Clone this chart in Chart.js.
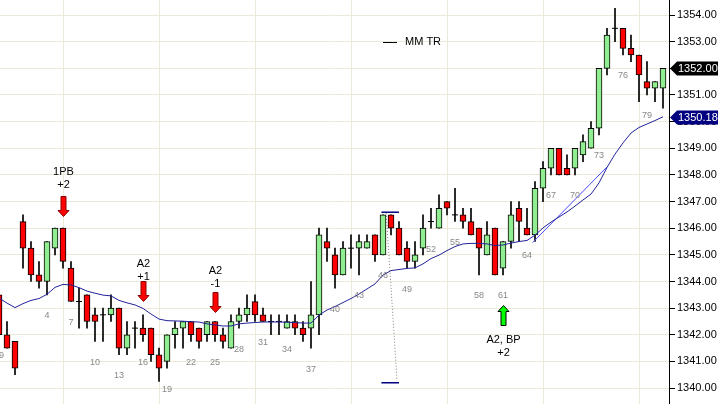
<!DOCTYPE html>
<html>
<head>
<meta charset="utf-8">
<script src="https://cdn.jsdelivr.net/npm/chart.js@4.4.1/dist/chart.umd.min.js"></script>
<style>
html, body { margin: 0; padding: 0; background: #fff; }
#wrap { width: 718px; height: 404px; }
</style>
</head>
<body>
<div id="wrap"><canvas id="chart" width="718" height="404"></canvas></div>
<script>
// bar number: 0 and below = end of previous session, 1..81 = today
const bars = [-2, -1, 0, 1, 2, 3, 4, 5, 6, 7, 8, 9, 10, 11, 12, 13, 14, 15, 16, 17, 18, 19, 20,
  21, 22, 23, 24, 25, 26, 27, 28, 29, 30, 31, 32, 33, 34, 35, 36, 37, 38, 39, 40,
  41, 42, 43, 44, 45, 46, 47, 48, 49, 50, 51, 52, 53, 54, 55, 56, 57, 58, 59, 60,
  61, 62, 63, 64, 65, 66, 67, 68, 69, 70, 71, 72, 73, 74, 75, 76, 77, 78, 79, 80, 81];

const opens = [1343.5, 1342, 1341.75, 1346.25, 1345.25, 1344.25, 1344, 1345.25, 1346, 1344.5,
  1343.25, 1343.5, 1342.75, 1342.75, 1342.75, 1343, 1341.5, 1342.25, 1342.25, 1342.25,
  1341.25, 1341, 1342, 1342.25, 1342.5, 1342.25, 1342, 1342.5, 1342, 1341.5,
  1342.5, 1342.75, 1343.25, 1342.75, 1342.5, 1342.5, 1342.25, 1342.5, 1342.25, 1342.25,
  1342.75, 1345.5, 1345, 1344.25, 1345.25, 1345.25, 1345.25, 1345.75, 1345, 1346.5,
  1346, 1345.25, 1344.75, 1345.25, 1346.25, 1346, 1347, 1346.5, 1346.5, 1346.25,
  1346, 1345, 1346, 1344.5, 1345.5, 1346.75, 1346, 1345.75, 1347.5, 1348.25,
  1349, 1348.25, 1348.25, 1348.75, 1349, 1349.75, 1352, 1353.5, 1353.5, 1352.75,
  1352.5, 1351.5, 1351.25, 1351.25];

const highs = [1343.5, 1342.5, 1341.75, 1346.5, 1345.5, 1344.75, 1345.5, 1346, 1346, 1344.75,
  1343.75, 1343.5, 1343, 1343, 1343.5, 1343, 1342.5, 1342.5, 1342.75, 1342.25,
  1341.5, 1342, 1342.5, 1342.5, 1342.5, 1342.25, 1342.5, 1342.5, 1342.25, 1342.75,
  1343, 1343.5, 1343.5, 1343, 1342.75, 1342.75, 1342.75, 1342.75, 1342.5, 1344,
  1346, 1346, 1345.25, 1345.5, 1345.75, 1345.75, 1345.75, 1345.75, 1346.5, 1346.5,
  1346.25, 1345.5, 1345.5, 1346.5, 1346.75, 1347.25, 1347, 1347.5, 1346.75, 1346.75,
  1346, 1346.25, 1346, 1345.5, 1347, 1347, 1346.75, 1347.75, 1348.5, 1349,
  1349, 1348.75, 1349, 1349.5, 1350, 1352, 1353.5, 1354.25, 1353.5, 1353.25,
  1352.5, 1352.25, 1351.5, 1352];

const lows = [1342, 1341.5, 1340.5, 1344.5, 1344, 1343.75, 1343.5, 1345, 1344.5, 1343.25,
  1342.25, 1342.25, 1341.75, 1341.75, 1342.5, 1341.25, 1341.25, 1341.5, 1341.75, 1341,
  1340.25, 1340.75, 1341.5, 1341.5, 1341.75, 1341.5, 1341.75, 1341.75, 1341.5, 1341.5,
  1342.25, 1342.5, 1342.5, 1342.5, 1342, 1342, 1342.25, 1342, 1341.75, 1341.5,
  1342, 1344.75, 1343.75, 1344.25, 1344.5, 1344.25, 1345.25, 1344.75, 1345, 1345.75,
  1345, 1344.5, 1344.5, 1345, 1346, 1346, 1346.5, 1346.25, 1346, 1345.75,
  1344.25, 1345, 1344.25, 1344.25, 1345.25, 1345.5, 1345.75, 1345.5, 1347, 1348,
  1348, 1348, 1348, 1348.5, 1349, 1349.5, 1351.75, 1353, 1352.5, 1352.25,
  1350.75, 1351, 1350.75, 1350.5];

const closes = [1342, 1341.5, 1340.75, 1345.25, 1344.25, 1344, 1345.5, 1346, 1344.75, 1343.25,
  1343.25, 1342.5, 1342.5, 1342.75, 1343, 1341.5, 1342, 1342.25, 1342, 1341.25,
  1340.75, 1342, 1342.25, 1342.5, 1342, 1341.75, 1342.5, 1342, 1341.75, 1342.5,
  1342.75, 1343, 1342.75, 1342.5, 1342.5, 1342.5, 1342.5, 1342.25, 1342, 1342.75,
  1345.75, 1345.25, 1344.25, 1345.25, 1345.25, 1345.5, 1345.5, 1345, 1346.5, 1346,
  1345, 1344.75, 1345, 1346, 1346.25, 1346.75, 1346.75, 1346.5, 1346.25, 1345.75,
  1345.25, 1345.75, 1344.25, 1345.5, 1346.5, 1346.25, 1345.75, 1347.5, 1348.25, 1349,
  1348, 1348, 1349, 1349.25, 1349.75, 1352, 1353.25, 1353.5, 1352.75, 1352.5,
  1351.75, 1351.25, 1351.5, 1352];

// moving average
const ema20 = [1343.38, 1343.19, 1343.02, 1343.17, 1343.29, 1343.36, 1343.52, 1343.78, 1343.89, 1343.87,
  1343.77, 1343.64, 1343.56, 1343.49, 1343.46, 1343.29, 1343.20, 1343.12, 1342.99, 1342.78,
  1342.59, 1342.53, 1342.52, 1342.51, 1342.49, 1342.48, 1342.41, 1342.37, 1342.33, 1342.33,
  1342.41, 1342.44, 1342.46, 1342.48, 1342.48, 1342.48, 1342.47, 1342.46, 1342.44, 1342.44,
  1342.74, 1342.93, 1343.06, 1343.21, 1343.36, 1343.53, 1343.72, 1343.91, 1344.24, 1344.41,
  1344.45, 1344.49, 1344.51, 1344.66, 1344.86, 1344.99, 1345.16, 1345.31, 1345.41, 1345.43,
  1345.43, 1345.41, 1345.35, 1345.37, 1345.44, 1345.50, 1345.54, 1345.74, 1346.01, 1346.23,
  1346.42, 1346.61, 1346.83, 1347.06, 1347.28, 1347.70, 1348.28, 1348.78, 1349.20, 1349.57,
  1349.78, 1349.91, 1350.04, 1350.18];

const yTicks = [1340, 1341, 1342, 1343, 1344, 1345, 1346, 1347, 1348, 1349, 1350, 1351, 1352, 1353, 1354];
const hourBars = [0, 12, 24, 36, 48, 60, 72];
const labelBars = [-2, 4, 7, 10, 13, 16, 19, 22, 25, 28, 31, 34, 37, 40, 43, 46, 49, 52, 55, 58, 61, 64, 67, 70, 73, 76, 79];

// trend line and measured move
const trendBars = [64.7, 74];
const trendPrices = [1345.46, 1348.3];
const mmBars = [46.4, 47.75];
const mmPrices = [1346.57, 1340.3];
const mmCapBars = [45.8, 48];
const mmCapPrices = [1346.6, 1340.2];

const notes = [
  { bar: 6, lines: ['1PB', '+2'], dir: 'down', tip: 1346.44, text: 1348.10 },
  { bar: 16, lines: ['A2', '+1'], dir: 'down', tip: 1343.28, text: 1344.65 },
  { bar: 25, lines: ['A2', '-1'], dir: 'down', tip: 1342.87, text: 1344.38 },
  { bar: 61, lines: ['A2, BP', '+2'], dir: 'up', tip: 1343.11, text: 1341.8 }
];

const UP = '#90ee90';
const DOWN = '#ff0000';

const wickData = bars.map((b, i) => ({ x: b, y: [lows[i], highs[i]] }));
const bodyData = [];
const bodyColors = [];
const dojiData = [];
bars.forEach((b, i) => {
  if (opens[i] === closes[i]) {
    dojiData.push({ x: b, y: opens[i] });
  } else {
    bodyData.push({ x: b, y: [opens[i], closes[i]] });
    bodyColors.push(closes[i] > opens[i] ? UP : DOWN);
  }
});
const emaData = bars.map((b, i) => ({ x: b, y: ema20[i] }));

const FONT = '"Liberation Sans", Arial, sans-serif';

const extras = {
  id: 'extras',
  afterDatasetsDraw(chart) {
    const ctx = chart.ctx;
    const xs = chart.scales.x, ys = chart.scales.y;
    const area = chart.chartArea;
    ctx.save();
    ctx.beginPath();
    ctx.rect(area.left, area.top, area.right - area.left, area.bottom - area.top);
    ctx.clip();

    // bar numbers under the lows
    ctx.font = '9px ' + FONT;
    ctx.fillStyle = '#888888';
    ctx.textAlign = 'center';
    ctx.textBaseline = 'middle';
    labelBars.forEach(b => {
      const i = bars.indexOf(b);
      const txt = String(b <= 0 ? b + 81 : b);
      ctx.fillText(txt, xs.getPixelForValue(b), ys.getPixelForValue(lows[i]) + 21);
    });

    // arrows and their text
    notes.forEach(n => {
      const x = Math.round(xs.getPixelForValue(n.bar)) + 0.5;
      const yt = Math.round(ys.getPixelForValue(n.tip)) + 0.5;
      const s = n.dir === 'down' ? -1 : 1;
      ctx.beginPath();
      ctx.moveTo(x, yt);
      ctx.lineTo(x + 5.5, yt + s * 6);
      ctx.lineTo(x + 2.5, yt + s * 6);
      ctx.lineTo(x + 2.5, yt + s * 20);
      ctx.lineTo(x - 2.5, yt + s * 20);
      ctx.lineTo(x - 2.5, yt + s * 6);
      ctx.lineTo(x - 5.5, yt + s * 6);
      ctx.closePath();
      ctx.fillStyle = n.dir === 'down' ? '#ff0000' : '#00ff00';
      ctx.fill();
      ctx.lineWidth = 1;
      ctx.strokeStyle = n.dir === 'down' ? '#8b0000' : '#000000';
      ctx.stroke();

      ctx.font = '11px ' + FONT;
      ctx.fillStyle = '#000';
      const y0 = ys.getPixelForValue(n.text);
      n.lines.forEach((t, k) => ctx.fillText(t, x, y0 + k * 13));
    });

    // legend for the MM / TR lines
    ctx.strokeStyle = '#000';
    ctx.lineWidth = 1;
    ctx.beginPath();
    ctx.moveTo(383, 42.5);
    ctx.lineTo(397, 42.5);
    ctx.stroke();
    ctx.font = '11px ' + FONT;
    ctx.textAlign = 'left';
    ctx.fillText('MM TR', 405, 42);
    ctx.restore();
  },
  afterDraw(chart) {
    const ctx = chart.ctx;
    const ys = chart.scales.y;
    const area = chart.chartArea;
    const w = chart.width;
    const tag = (val, color) => {
      const y = Math.round(ys.getPixelForValue(val)) + 0.5;
      ctx.beginPath();
      ctx.moveTo(area.right + 1, y);
      ctx.lineTo(area.right + 8, y - 7);
      ctx.lineTo(w, y - 7);
      ctx.lineTo(w, y + 7);
      ctx.lineTo(area.right + 8, y + 7);
      ctx.closePath();
      ctx.fillStyle = color;
      ctx.fill();
      ctx.font = '11px ' + FONT;
      ctx.fillStyle = '#fff';
      ctx.textAlign = 'left';
      ctx.textBaseline = 'middle';
      ctx.fillText(val.toFixed(2), area.right + 9, y);
    };
    ctx.save();
    tag(ema20[ema20.length - 1], '#000080');
    tag(closes[closes.length - 1], '#000000');
    ctx.restore();
  }
};

const noPad = s => {
  s.paddingTop = 0;
  s.paddingBottom = 0;
  s.paddingLeft = 0;
  s.paddingRight = 0;
};

new Chart(document.getElementById('chart'), {
  type: 'bar',
  data: {
    datasets: [
      {
        type: 'line', data: emaData, borderColor: '#22229a', borderWidth: 1,
        pointRadius: 0, tension: 0, order: 0
      },
      {
        type: 'line', data: trendBars.map((b, i) => ({ x: b, y: trendPrices[i] })),
        borderColor: '#4a4aff', borderWidth: 1, pointRadius: 0, order: 0
      },
      {
        type: 'line', data: mmBars.map((b, i) => ({ x: b, y: mmPrices[i] })),
        borderColor: '#808080', borderWidth: 1, borderDash: [1, 2], pointRadius: 0, order: 0
      },
      {
        type: 'line', data: mmCapBars.map(b => ({ x: b, y: mmCapPrices[0] })),
        borderColor: '#000080', borderWidth: 1.5, pointRadius: 0, order: 0
      },
      {
        type: 'line', data: mmCapBars.map(b => ({ x: b, y: mmCapPrices[1] })),
        borderColor: '#000080', borderWidth: 1.5, pointRadius: 0, order: 0
      },
      {
        type: 'bar', data: bodyData, backgroundColor: bodyColors, borderColor: '#000',
        borderWidth: 1, borderSkipped: false, barThickness: 6, grouped: false, order: 1
      },
      {
        type: 'scatter', data: dojiData, pointStyle: 'line', pointRadius: 3,
        borderColor: '#000', borderWidth: 1, order: 1
      },
      {
        type: 'bar', data: wickData, backgroundColor: '#000', borderWidth: 0,
        barThickness: 1, grouped: false, order: 2
      }
    ]
  },
  options: {
    responsive: false,
    animation: false,
    devicePixelRatio: 1,
    layout: { padding: 0, autoPadding: false },
    plugins: { legend: { display: false }, tooltip: { enabled: false } },
    scales: {
      x: {
        type: 'linear', min: -1.875, max: 81.75, offset: false,
        afterBuildTicks: s => { s.ticks = hourBars.map(v => ({ value: v })); },
        afterFit: s => { s.height = 0; noPad(s); },
        ticks: { display: false },
        border: { display: false },
        grid: {
          drawTicks: false,
          color: c => (c.tick && c.tick.value === 0 ? '#b8b8b8' : '#ece9d8')
        }
      },
      y: {
        type: 'linear', position: 'right', min: 1339.403, max: 1354.563,
        afterBuildTicks: s => { s.ticks = yTicks.map(v => ({ value: v })); },
        afterFit: s => { s.width = 49; noPad(s); },
        border: { display: true, color: '#000', width: 1 },
        grid: { color: '#ece9d8', tickColor: '#000', tickLength: 6 },
        ticks: {
          padding: 2, color: '#000',
          font: { family: FONT, size: 11 },
          callback: v => Number(v).toFixed(2)
        }
      }
    }
  },
  plugins: [extras]
});
</script>
</body>
</html>
